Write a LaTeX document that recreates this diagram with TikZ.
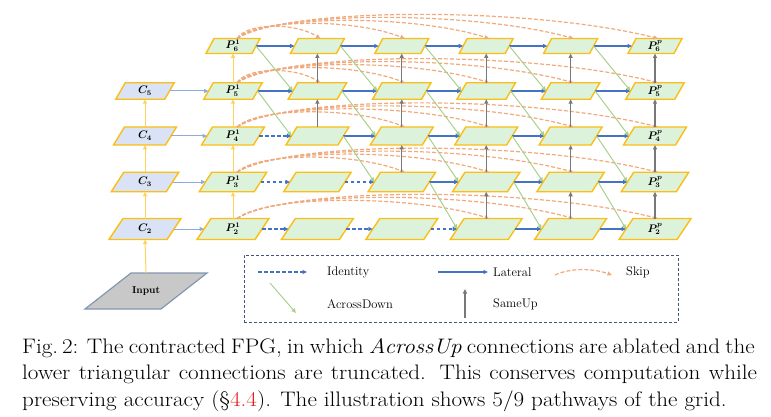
\documentclass[tikz,border=0pt]{standalone}
\usepackage{fontspec}
\usetikzlibrary{arrows.meta}
\definecolor{pgreen}{RGB}{221,242,219}
\definecolor{pborder}{RGB}{250,190,20}
\definecolor{cfill}{RGB}{218,227,245}
\definecolor{lblue}{RGB}{68,114,196}
\definecolor{cblue}{RGB}{143,170,220}
\definecolor{yarrow}{RGB}{255,210,90}
\definecolor{agreen}{RGB}{169,209,142}
\definecolor{sgray}{RGB}{120,120,120}
\definecolor{skipor}{RGB}{240,170,125}
\definecolor{boxblue}{RGB}{68,84,130}
\definecolor{inpfill}{RGB}{200,200,200}
\definecolor{inpborder}{RGB}{132,151,176}
\definecolor{refred}{RGB}{230,30,30}
\tikzset{
  arrowtip/.style={-{Triangle[length=4.5pt,width=4pt]}},
  pshape/.style={fill=pgreen, draw=pborder, line width=1.4pt},
  cshape/.style={fill=cfill, draw=pborder, line width=1.4pt},
  inpshape/.style={fill=inpfill, draw=inpborder, line width=1.2pt},
  anchorbox/.style={inner sep=0pt, outer sep=0pt, font=\fontsize{10.5}{11}\selectfont\boldmath},
  lateral/.style={arrowtip, draw=lblue, line width=1.2pt},
  identity/.style={lateral, dash pattern=on 3.5pt off 2.5pt},
  cpath/.style={arrowtip, draw=cblue, line width=1pt},
  uppath/.style={arrowtip, draw=yarrow, line width=1pt},
  across/.style={arrowtip, draw=agreen, line width=1pt},
  sameup/.style={arrowtip, draw=sgray, line width=1.2pt},
  skiparc/.style={arrowtip, draw=skipor, line width=1.2pt, dash pattern=on 4pt off 2pt},
  legtext/.style={anchor=west, font=\fontsize{12.5}{14}\selectfont, inner sep=0pt},
  captext/.style={anchor=base west, inner sep=0pt, font=\fontsize{21}{26}\selectfont},
}
\begin{document}
\begin{tikzpicture}[x=1pt,y=-1pt]
\useasboundingbox (0,0) rectangle (771,417);
% grid of nodes
\foreach \ri/\yy/\ee/\hh/\oo in {6/46/46/15/8,5/91/49/16.5/9.5,4/136/52/18/11,3/182/55/19.5/12.5,2/229/58/21/14}{
  \foreach \ci in {1,...,6}{
    \pgfmathsetmacro\xx{233+84.4*(\ci-1)}
    \path[pshape] ({\xx-\ee/2-\oo/2},{\yy+\hh/2}) -- ({\xx+\ee/2-\oo/2},{\yy+\hh/2}) -- ({\xx+\ee/2+\oo/2},{\yy-\hh/2}) -- ({\xx-\ee/2+\oo/2},{\yy-\hh/2}) -- cycle;
    \ifnum\ci=1 \def\lab{$P^{1}_{\ri}$}\else\ifnum\ci=6 \def\lab{$P^{p}_{\ri}$}\else\def\lab{}\fi\fi
    \node[anchorbox, minimum width=\ee pt, minimum height=\hh pt] (p-\ci-\ri) at (\xx,\yy) {\lab};
  }
  \ifnum\ri<6
    \path[cshape] ({145-\ee/2-\oo/2},{\yy+\hh/2}) -- ({145+\ee/2-\oo/2},{\yy+\hh/2}) -- ({145+\ee/2+\oo/2},{\yy-\hh/2}) -- ({145-\ee/2+\oo/2},{\yy-\hh/2}) -- cycle;
    \node[anchorbox, minimum width=\ee pt, minimum height=\hh pt] (c-\ri) at (145,\yy) {$C_{\ri}$};
  \fi
}
% input
\path[inpshape] (85,309) -- (161,309) -- (207,273) -- (131,273) -- cycle;
\node[inner sep=0pt, minimum width=76pt, minimum height=36pt, font=\fontsize{10}{11}\selectfont\bfseries] (input) at (146,291) {Input};
% skip arcs
\foreach \ri/\st in {6/2,5/2,4/3,3/3,2/4}{
  \foreach \ci in {\st,...,6}{
    \pgfmathsetmacro\dd{84.4*(\ci-1)}
    \pgfmathsetmacro\hg{(9+3*(\ci-1))/0.75}
    \draw[skiparc] ([xshift=4pt]p-1-\ri.north) .. controls +({0.12*\dd},{-\hg}) and +({-0.3*\dd},{-\hg}) .. ([xshift=3pt]p-\ci-\ri.north);
  }
}
% yellow up paths
\draw[uppath] (input.north) -- (c-2.south);
\foreach \ri in {2,...,4}{
  \pgfmathtruncatemacro\nx{\ri+1}
  \draw[uppath] (c-\ri.north) -- (c-\nx.south);
}
\foreach \ri in {2,...,5}{
  \pgfmathtruncatemacro\nx{\ri+1}
  \draw[uppath] (p-1-\ri.north) -- (p-1-\nx.south);
  \draw[cpath] (c-\ri.east) -- (p-1-\ri.west);
}
% lateral / identity
\foreach \ri in {2,...,6}{
  \foreach \ci in {1,...,5}{
    \pgfmathtruncatemacro\nx{\ci+1}
    \ifnum\ci<\numexpr6-\ri\relax
      \draw[identity] (p-\ci-\ri.east) -- (p-\nx-\ri.west);
    \else
      \draw[lateral] (p-\ci-\ri.east) -- (p-\nx-\ri.west);
    \fi
  }
}
% across down
\foreach \ri in {3,...,6}{
  \foreach \ci in {1,...,5}{
    \pgfmathtruncatemacro\nx{\ci+1}
    \pgfmathtruncatemacro\ny{\ri-1}
    \ifnum\ri>\numexpr5-\ci\relax
      \draw[across] (p-\ci-\ri.east) -- (p-\nx-\ny.west);
    \fi
  }
}
% same up
\foreach \ri in {2,...,5}{
  \foreach \ci in {2,...,6}{
    \pgfmathtruncatemacro\ny{\ri+1}
    \ifnum\ri>\numexpr5-\ci\relax
      \draw[sameup] (p-\ci-\ri.north) -- (p-\ci-\ny.south);
    \fi
  }
}
% legend
\node[draw=boxblue, line width=1pt, dash pattern=on 3pt off 2pt, minimum width=434pt, minimum height=67pt, inner sep=0pt] (legend) at (461,288.5) {};
\coordinate (id-a) at (258,272); \coordinate (id-b) at (307,272);
\draw[identity] (id-a) -- (id-b);
\node[legtext] (id-t) at (327,272) {Identity};
\coordinate (la-a) at (438,272); \coordinate (la-b) at (488,272);
\draw[lateral] (la-a) -- (la-b);
\node[legtext] (la-t) at (493,272) {Lateral};
\coordinate (sk-a) at (555,275); \coordinate (sk-b) at (612,275);
\draw[skiparc] (sk-a) .. controls +(15,-7) and +(-20,-7) .. (sk-b);
\node[legtext] (sk-t) at (626,272) {Skip};
\coordinate (ad-a) at (270,283); \coordinate (ad-b) at (296,313);
\draw[across] (ad-a) -- (ad-b);
\node[legtext] (ad-t) at (327,304) {AcrossDown};
\coordinate (su-a) at (465,318); \coordinate (su-b) at (465,289);
\draw[sameup] (su-a) -- (su-b);
\node[legtext] (su-t) at (493,304) {SameUp};
% caption
\node[captext] (cap1) at (22,353) {\scalebox{1.1}[1]{\makebox[666pt][s]{Fig.\,2: The contracted FPG, in which \textit{AcrossUp} connections are ablated and the}}};
\node[captext] (cap2) at (22,379.5) {\scalebox{1.1}[1]{\makebox[668pt][s]{lower triangular connections are truncated. This conserves computation while}}};
\node[captext] (cap3) at (22,406) {\scalebox{1.1}[1]{preserving accuracy (\S\textcolor{refred}{4.4}). The illustration shows 5/9 pathways of the grid.}};
\end{tikzpicture}
\end{document}
